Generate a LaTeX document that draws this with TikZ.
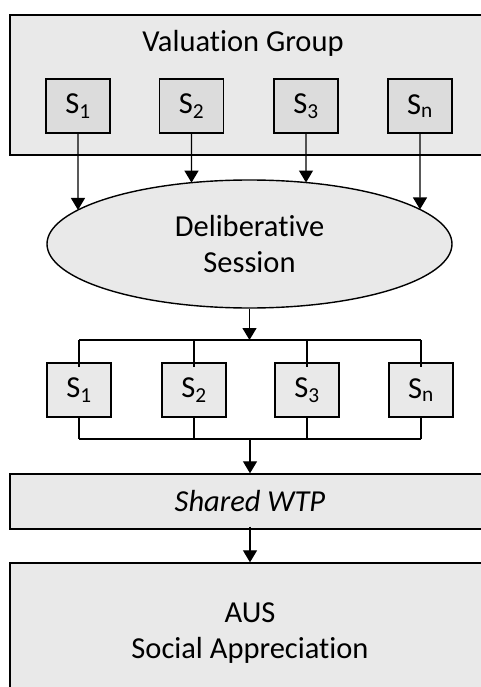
\documentclass[tikz,border=0pt]{standalone}
\usepackage{fontspec}
\setmainfont{Carlito}[Ligatures=NoCommon]
\usetikzlibrary{arrows.meta,shapes.geometric,intersections,calc}
\definecolor{boxgray}{HTML}{E9E9E9}
\definecolor{sgray}{HTML}{DCDCDC}
\begin{document}
\begin{tikzpicture}[x=1pt,y=-1pt,
  every node/.style={font=\fontsize{30.5}{36}\selectfont, inner sep=0pt},
  wide/.style={draw=black, line width=1.4pt, fill=boxgray, minimum width=480pt},
  sbox/.style={draw=black, line width=1.4pt, minimum width=64pt, minimum height=54pt},
  topS/.style={sbox, fill=sgray},
  botS/.style={sbox, fill=boxgray},
  arr/.style={line width=1.3pt, -{Triangle[width=14pt,length=12pt]}},
  ln/.style={line width=1.3pt}]
\useasboundingbox (0,0) rectangle (480,687);
% Valuation group
\node[wide, minimum height=140pt] (vg) at (250,85) {};
\node (vglab) at (243,43) {Valuation Group};
\node[topS] (t1) at (78,106) {S\textsubscript{1}};
\node[topS] (t2) at (191.5,106) {S\textsubscript{2}};
\node[topS] (t3) at (306,106) {S\textsubscript{3}};
\node[topS] (tn) at (420,106) {S\textsubscript{n}};
% Ellipse
\node[ellipse, draw=black, line width=1.4pt, fill=boxgray, minimum width=405pt, minimum height=128pt, align=center, name path=ellp] (ds) at (249.5,244) {Deliberative\\Session};
\path[name path=va] (t1.south) -- ++(0,150);
\path[name path=vb] (t2.south) -- ++(0,150);
\path[name path=vc] (t3.south) -- ++(0,150);
\path[name path=vd] (tn.south) -- ++(0,150);
\path[name intersections={of=va and ellp, name=ia}];
\path[name intersections={of=vb and ellp, name=ib}];
\path[name intersections={of=vc and ellp, name=ic}];
\path[name intersections={of=vd and ellp, name=id}];
\draw[arr] (t1.south) -- (ia-1);
\draw[arr] (t2.south) -- (ib-1);
\draw[arr] (t3.south) -- (ic-1);
\draw[arr] (tn.south) -- (id-1);
% second row
\node[botS] (b1) at (79,390) {S\textsubscript{1}};
\node[botS] (b2) at (194,390) {S\textsubscript{2}};
\node[botS] (b3) at (307,390) {S\textsubscript{3}};
\node[botS] (bn) at (421,390) {S\textsubscript{n}};
\coordinate (topbar) at (250,340);
\coordinate (botbar) at (250,439);
\draw[arr] (ds.south) -- (ds.south |- topbar);
\draw[ln] (b1.north |- topbar) -- (bn.north |- topbar);
\foreach \n in {b1,b2,b3,bn}{
  \draw[ln] (\n.north |- topbar) -- ([yshift=-5pt]\n.north);
  \draw[ln] (\n.south) -- (\n.south |- botbar);
}
\draw[ln] (b1.south |- botbar) -- (bn.south |- botbar);
% Shared WTP
\node[wide, minimum height=55pt] (wtp) at (250,501.5) {\itshape Shared WTP};
\draw[arr] (botbar) -- (botbar |- wtp.north);
% AUS
\node[wide, minimum height=140pt, align=center] (aus) at (250,633) {AUS\\Social Appreciation};
\draw[arr] ([yshift=3pt]wtp.south) -- (aus.north);
\end{tikzpicture}
\end{document}
